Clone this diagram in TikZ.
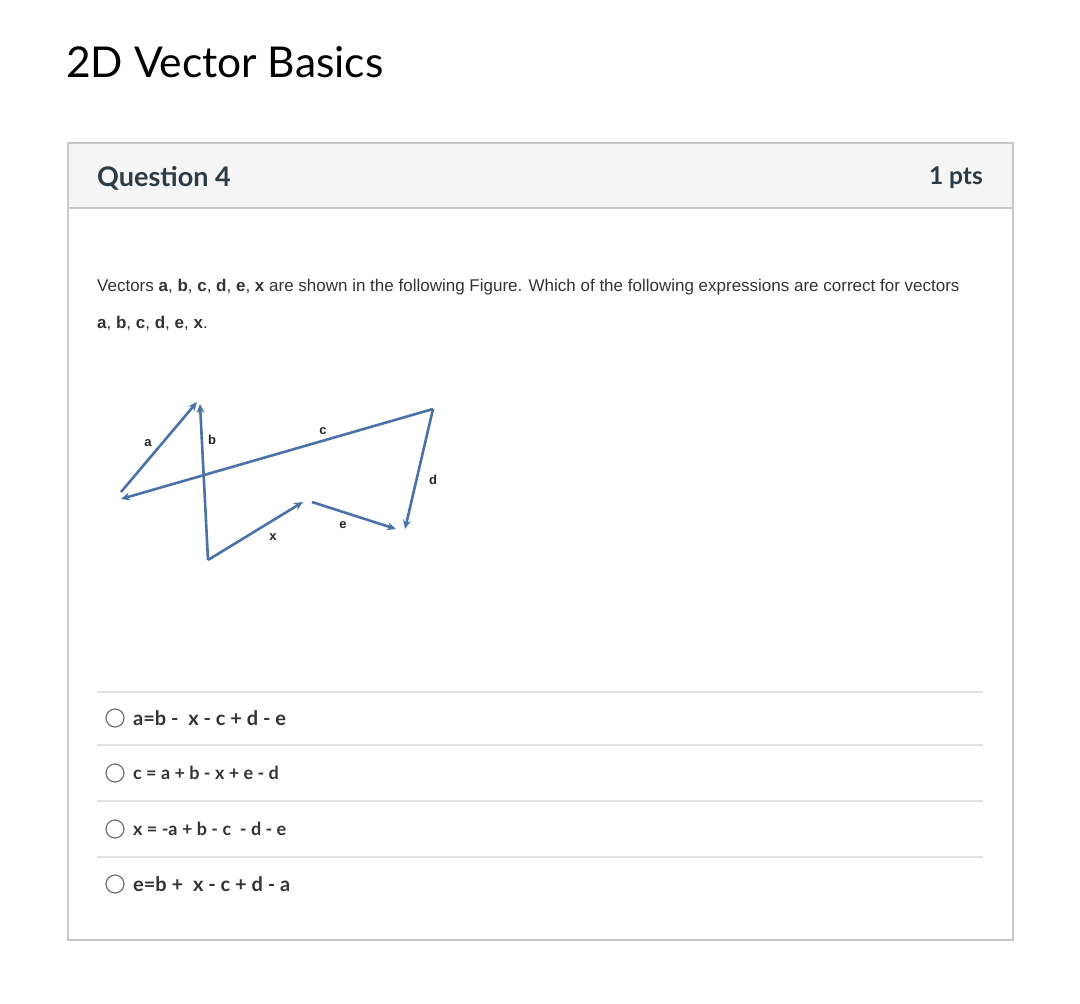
\documentclass[tikz,border=0pt]{standalone}
\usepackage{fontspec}
\setmainfont{Lato}
\newfontfamily\arialf{Liberation Sans}
\usetikzlibrary{arrows.meta}
\definecolor{vecblue}{HTML}{4A72A8}
\definecolor{cardborder}{HTML}{C8C8C8}
\definecolor{headfill}{HTML}{F5F5F5}
\definecolor{sepline}{HTML}{E2E2E2}
\definecolor{txtgray}{HTML}{2D3B45}
\tikzset{
  vec/.style={draw=vecblue, line width=2.6pt, -{Stealth[length=9pt,width=8pt]}},
  vlabel/.style={font=\arialf\bfseries\fontsize{13}{15}\selectfont, text=black!85, inner sep=0pt},
  opt/.style={font=\fontsize{20}{24}\selectfont\bfseries, text=black!80, anchor=west, inner sep=0pt},
  radio/.style={circle, draw=black!55, line width=1.2pt, minimum size=18pt, inner sep=0pt},
  sep/.style={draw=sepline, line width=1.2pt}
}
\begin{document}
\begin{tikzpicture}[x=1pt,y=-1pt]
\useasboundingbox (0,0) rectangle (1080,1004);
% title
\node[anchor=west, inner sep=0pt, font=\fontsize{42.5}{50}\selectfont] (title) at (66,62) {2D Vector Basics};
% card
\fill[headfill] (68,143) rectangle (1013,208);
\draw[cardborder, line width=1.5pt] (68,143) rectangle (1013,940);
\draw[cardborder, line width=1.5pt] (68,208) -- (1013,208);
\node[anchor=west, inner sep=0pt, font=\fontsize{27}{32}\selectfont\bfseries, text=txtgray] (q) at (97,178) {Question 4};
\node[anchor=east, inner sep=0pt, font=\fontsize{24.5}{29}\selectfont\bfseries, text=txtgray] (pts) at (983,178) {1 pts};
% question text
\node[anchor=west, inner sep=0pt, font=\arialf\fontsize{17}{20}\selectfont, text=black!80] (l1) at (97,287) {Vectors \textbf{a}, \textbf{b}, \textbf{c}, \textbf{d}, \textbf{e}, \textbf{x} are shown in the following Figure. Which of the following expressions are correct for vectors};
\node[anchor=west, inner sep=0pt, font=\arialf\fontsize{17}{20}\selectfont, text=black!80] (l2) at (97,323) {\textbf{a}, \textbf{b}, \textbf{c}, \textbf{d}, \textbf{e}, \textbf{x}.};
% vectors
\coordinate (A0) at (121,492);
\coordinate (A1) at (197,402);
\coordinate (B0) at (208,560);
\coordinate (B1) at (200,404);
\coordinate (C0) at (433,409);
\coordinate (C1) at (121,499);
\coordinate (D1) at (405,529);
\coordinate (X1) at (303,502);
\coordinate (E0) at (312,502);
\coordinate (E1) at (396,529);
\draw[vec] (A0) -- (A1);
\draw[vec] (B0) -- (B1);
\draw[vec] (C0) -- (C1);
\draw[vec] (C0) -- (D1);
\draw[vec] (B0) -- (X1);
\draw[vec] (E0) -- (E1);
\node[vlabel] (la) at (148,443) {a};
\node[vlabel] (lb) at (212,440) {b};
\node[vlabel] (lc) at (323,431) {c};
\node[vlabel] (ld) at (433,480) {d};
\node[vlabel] (le) at (343,525) {e};
\node[vlabel] (lx) at (273,537) {x};
% options
\draw[sep] (97,692) -- (983,692);
\draw[sep] (97,745) -- (983,745);
\draw[sep] (97,801) -- (983,801);
\draw[sep] (97,857) -- (983,857);
\node[radio] (r1) at (115,718) {};
\node[radio] (r2) at (115,773) {};
\node[radio] (r3) at (115,829) {};
\node[radio] (r4) at (115,884) {};
\node[opt] (o1) at (133,718) {a=b -\ \ x - c + d - e};
\node[opt, font=\fontsize{18}{22}\selectfont\bfseries] (o2) at (133,773) {c = a + b - x + e - d};
\node[opt, font=\fontsize{18}{22}\selectfont\bfseries] (o3) at (133,829) {x = -a + b - c \ - d - e};
\node[opt] (o4) at (133,884) {e=b +\ \ x - c + d - a};
\end{tikzpicture}
\end{document}
